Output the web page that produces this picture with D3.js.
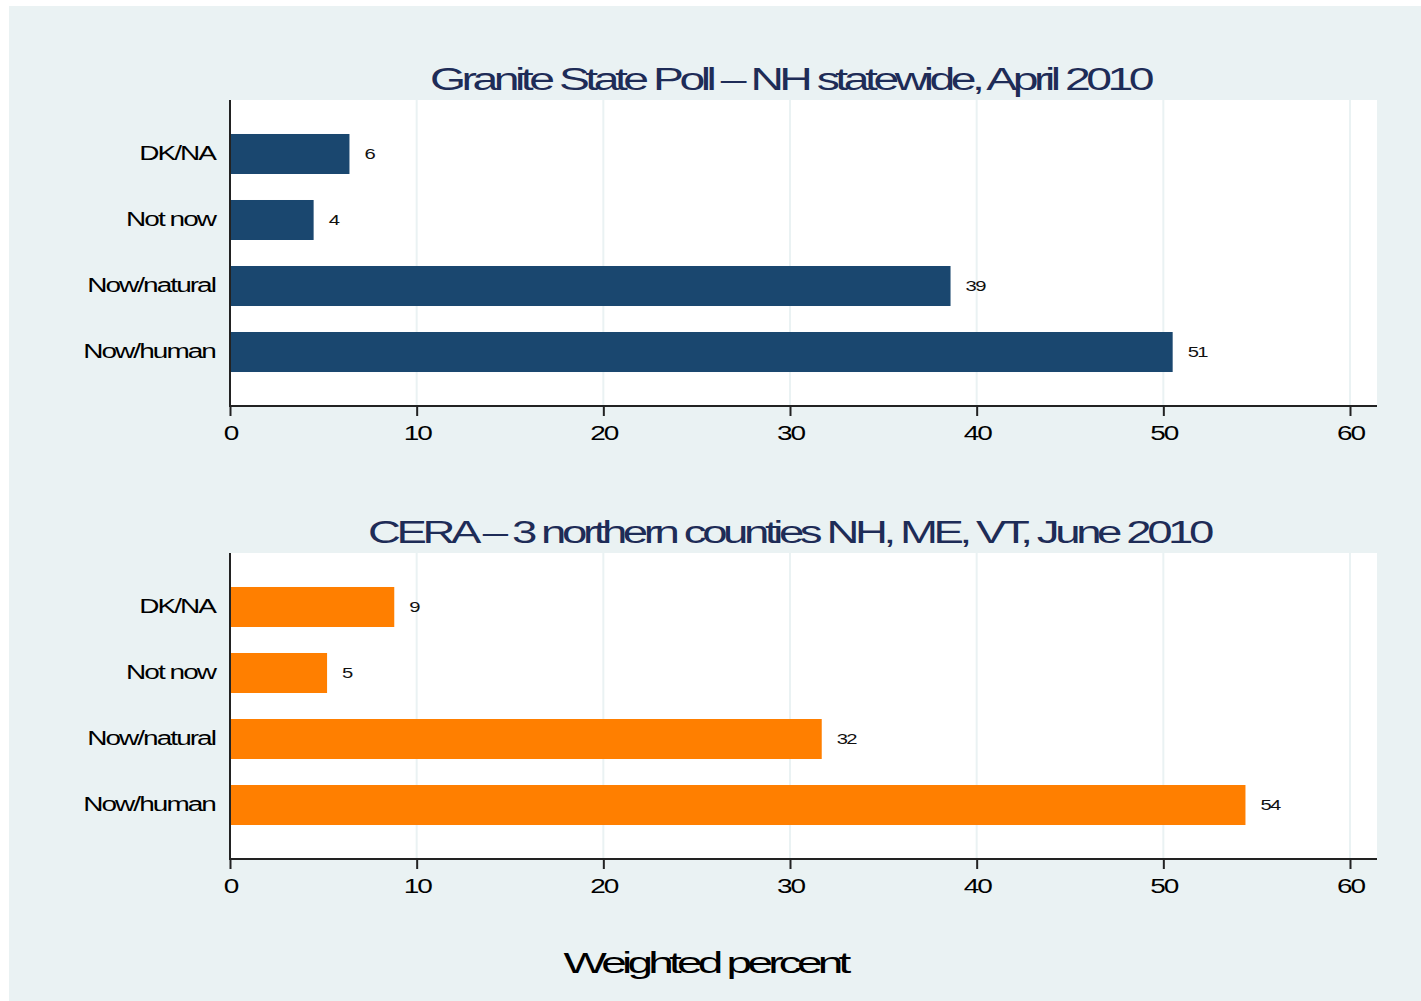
<!DOCTYPE html>
<html><head><meta charset="utf-8">
<script src="https://cdn.jsdelivr.net/npm/d3@7"></script>
<style>body{margin:0;background:#fff}svg{display:block}text{font-family:"Liberation Sans",Arial,sans-serif}</style>
</head><body>
<svg id="c" width="1421" height="1001"></svg>
<script>
const categories = ["DK/NA", "Not now", "Now/natural", "Now/human"];
const granitePoll = [6.4, 4.48, 38.6, 50.5];
const ceraPoll = [8.8, 5.2, 31.7, 54.4];
const panelTitles = ["Granite State Poll \u2013 NH statewide, April 2010", "CERA \u2013 3 northern counties NH, ME, VT, June 2010"];
const xTicks = [0, 10, 20, 30, 40, 50, 60];
const xTitle = "Weighted percent";
const barColors = ["#1a476f", "#ff7f00"];

const svg = d3.select("#c");
svg.append("rect").attr("x", 9).attr("y", 6).attr("width", 1412).attr("height", 995).attr("fill", "#eaf2f3");

const x = d3.scaleLinear().domain([0, 60]).range([230, 1350]);

function stretch(sel, sx, ls) {
  sel.each(function() {
    const t = d3.select(this);
    const px = +t.attr("x"), py = +t.attr("y");
    t.attr("x", 0).attr("y", 0).attr("letter-spacing", ls)
     .attr("transform", `translate(${px},${py}) scale(${sx},1)`);
  });
}

const panels = [
  {top: 100, values: granitePoll, title: panelTitles[0], color: barColors[0], titleY: 90, titleW: 720, titleX: 790},
  {top: 553, values: ceraPoll, title: panelTitles[1], color: barColors[1], titleY: 543, titleW: 842, titleX: 789}
];

panels.forEach(p => {
  const bottom = p.top + 306;
  const g = svg.append("g");
  g.append("rect").attr("x", 230).attr("y", p.top).attr("width", 1377 - 230).attr("height", 306).attr("fill", "#fff");
  g.selectAll("line.grid").data(xTicks.filter(d => d > 0)).join("line")
    .attr("x1", d => x(d)).attr("x2", d => x(d)).attr("y1", p.top).attr("y2", bottom)
    .attr("stroke", "#eaf2f3").attr("stroke-width", 2);
  const y = d3.scaleBand().domain(categories).range([p.top, bottom]).paddingInner(0.394).paddingOuter(0.515);
  g.selectAll("rect.bar").data(categories).join("rect")
    .attr("x", x(0)).attr("y", d => y(d))
    .attr("width", (d, i) => x(p.values[i]) - x(0)).attr("height", y.bandwidth())
    .attr("fill", p.color);
  const vl = g.selectAll("text.val").data(categories).join("text")
    .attr("x", (d, i) => x(p.values[i]) + 15).attr("y", d => y(d) + y.bandwidth() / 2 + 5)
    .attr("font-size", 15).attr("fill", "#111")
    .text((d, i) => Math.round(p.values[i]));
  stretch(vl, 1.35, -1.2);
  const cl = g.selectAll("text.cat").data(categories).join("text")
    .attr("x", 215).attr("y", d => y(d) + y.bandwidth() / 2 + 6)
    .attr("font-size", 20).attr("text-anchor", "end").attr("fill", "#000")
    .text(d => d);
  stretch(cl, 1.4, -1.4);
  g.append("line").attr("x1", 230).attr("x2", 230).attr("y1", p.top).attr("y2", bottom + 1)
    .attr("stroke", "#222").attr("stroke-width", 2);
  const ax = g.append("g").attr("transform", `translate(0,${bottom})`)
    .call(d3.axisBottom(x).tickValues(xTicks).tickSize(10).tickPadding(0).tickFormat(d3.format("d")));
  ax.select(".domain").remove();
  ax.selectAll(".tick line").attr("stroke", "#222").attr("stroke-width", 2);
  ax.selectAll(".tick text").attr("font-size", 20).attr("fill", "#000").attr("dy", null).attr("y", 0)
    .attr("font-family", "Liberation Sans, Arial, sans-serif")
    .attr("letter-spacing", -1.5).attr("transform", "translate(0,34) scale(1.4,1)");
  g.append("line").attr("x1", 229).attr("x2", 1377).attr("y1", bottom).attr("y2", bottom)
    .attr("stroke", "#222").attr("stroke-width", 2);
  g.append("text").attr("x", p.titleX).attr("y", p.titleY).attr("text-anchor", "middle")
    .attr("font-size", 31).attr("fill", "#1e2c57").attr("letter-spacing", -3)
    .attr("textLength", p.titleW).attr("lengthAdjust", "spacingAndGlyphs")
    .text(p.title);
});

svg.append("text").attr("x", 705).attr("y", 973).attr("text-anchor", "middle")
  .attr("font-size", 29).attr("fill", "#000").attr("letter-spacing", -3)
  .attr("textLength", 283).attr("lengthAdjust", "spacingAndGlyphs")
  .text(xTitle);
</script>
</body></html>
